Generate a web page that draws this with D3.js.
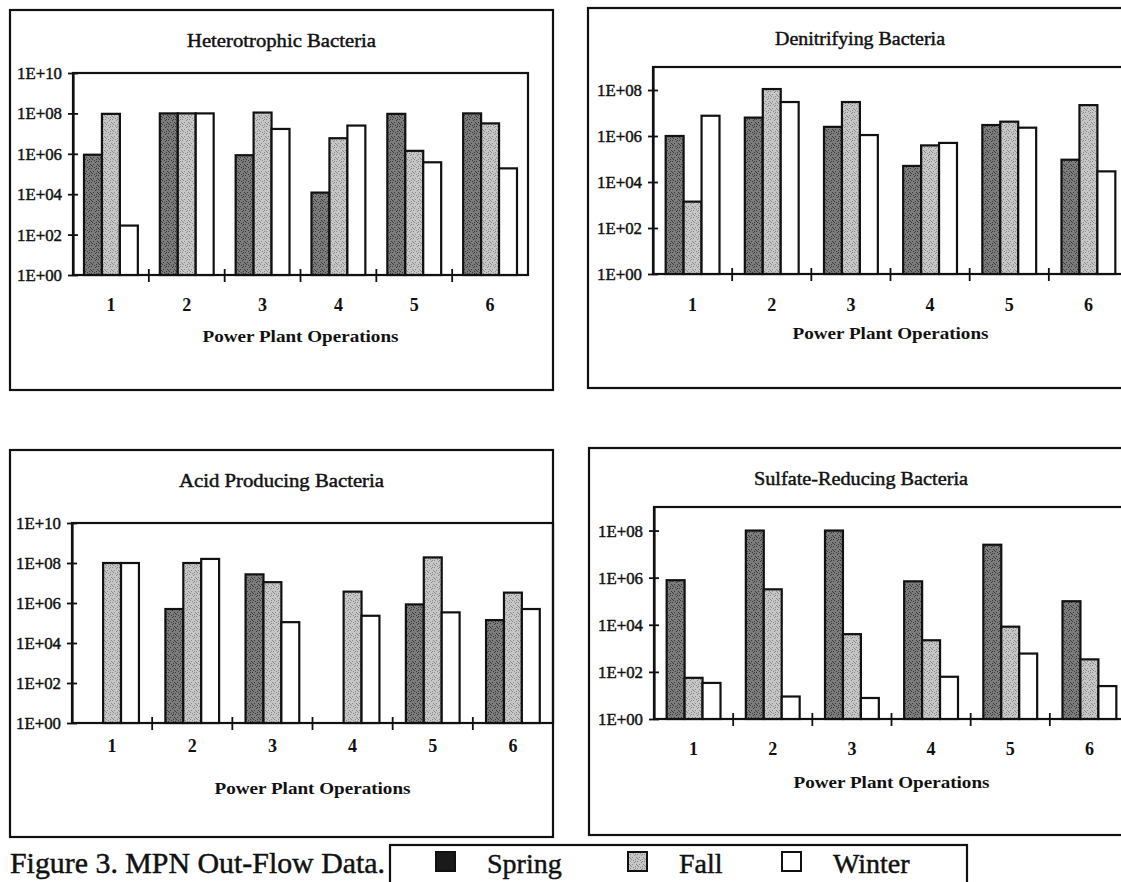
<!DOCTYPE html>
<html>
<head>
<meta charset="utf-8">
<script src="https://cdn.jsdelivr.net/npm/d3@7"></script>
<style>
  body { margin: 0; background: #fff; }
  svg { display: block; }
  text { font-family: "Liberation Serif", "Times New Roman", Times, serif; fill: #111; }
  .ink { stroke: #111; stroke-width: 0.45px; }
</style>
</head>
<body>
<svg id="fig" width="1121" height="882"></svg>
<script>
// ---- data ---------------------------------------------------------------
const operations = ["1", "2", "3", "4", "5", "6"];
const seasons = ["Spring", "Fall", "Winter"];

const tickValuesTen = [1, 1e2, 1e4, 1e6, 1e8, 1e10];
const tickLabelsTen = ["1E+00", "1E+02", "1E+04", "1E+06", "1E+08", "1E+10"];
const tickValuesEight = [1, 1e2, 1e4, 1e6, 1e8];
const tickLabelsEight = ["1E+00", "1E+02", "1E+04", "1E+06", "1E+08"];

// MPN counts (per operation 1..6); null = no count reported
const heteroSpring = [9.0e5, 1.0e8, 8.5e5, 1.2e4, 9.5e7, 1.0e8];
const heteroFall   = [9.5e7, 1.0e8, 1.1e8, 5.9e6, 1.4e6, 3.2e7];
const heteroWinter = [2.8e2, 1.0e8, 1.7e7, 2.5e7, 3.8e5, 1.9e5];

const denitSpring = [1.0e6, 6.3e6, 2.5e6, 5.0e4, 3.0e6, 9.3e4];
const denitFall   = [1.4e3, 1.1e8, 3.0e7, 3.9e5, 4.2e6, 2.2e7];
const denitWinter = [7.6e6, 3.0e7, 1.1e6, 5.0e5, 2.3e6, 2.9e4];

const acidSpring = [null, 5.0e5, 2.7e7, null, 8.5e5, 1.4e5];
const acidFall   = [1.0e8, 1.0e8, 1.1e7, 3.7e6, 1.9e8, 3.3e6];
const acidWinter = [1.0e8, 1.6e8, 1.1e5, 2.3e5, 3.4e5, 5.0e5];

const sulfSpring = [7.8e5, 1.0e8, 1.0e8, 7.0e5, 2.5e7, 1.0e5];
const sulfFall   = [56, 3.2e5, 4.0e3, 2.2e3, 8.3e3, 340];
const sulfWinter = [34, 9, 7.8, 62, 600, 25];

const panelTitles = ["Heterotrophic Bacteria", "Denitrifying Bacteria",
                     "Acid Producing Bacteria", "Sulfate-Reducing Bacteria"];
const axisTitle = "Power Plant Operations";
const captionText = "Figure 3.  MPN Out-Flow Data.";

// ---- drawing ------------------------------------------------------------
const svg = d3.select("#fig");
const defs = svg.append("defs");

// grainy halftone fills for the shaded bars (scattered dots, 7x7 tile)
const dotCells = [[0,0],[4,1],[2,3],[6,3],[1,5],[5,5],[3,6],[5,0],[0,4]];
function halftone(id, base, dot) {
  const p = defs.append("pattern").attr("id", id)
    .attr("width", 7).attr("height", 7).attr("patternUnits", "userSpaceOnUse");
  p.append("rect").attr("width", 7).attr("height", 7).attr("fill", base);
  p.selectAll("rect.d").data(dotCells).join("rect").attr("class", "d")
    .attr("x", d => d[0]).attr("y", d => d[1]).attr("width", 1).attr("height", 1)
    .attr("fill", dot);
}
halftone("springFill", "#7c7c7c", "#3a3a3a");
halftone("fallFill", "#c6c6c6", "#8a8a8a");

const seasonFill = { Spring: "url(#springFill)", Fall: "url(#fallFill)", Winter: "#ffffff" };

const panels = [
  { title: panelTitles[0], series: [heteroSpring, heteroFall, heteroWinter],
    outer: { x: 10, y: 10, w: 543, h: 380 }, plot: { x: 73, y: 73, w: 455, h: 202 },
    yMax: 1e10, ticks: tickValuesTen, tickLabels: tickLabelsTen,
    titleY: 47, titleLen: 189, catY: 311, axisTitleY: 342, groupFrac: 0.71 },
  { title: panelTitles[1], series: [denitSpring, denitFall, denitWinter],
    outer: { x: 588, y: 8, w: 544, h: 380 }, plot: { x: 653, y: 67, w: 475, h: 207 },
    yMax: 1e9, ticks: tickValuesEight, tickLabels: tickLabelsEight,
    titleY: 45, titleLen: 170, catY: 311, axisTitleY: 339, groupFrac: 0.68 },
  { title: panelTitles[2], series: [acidSpring, acidFall, acidWinter],
    outer: { x: 10, y: 450, w: 543, h: 387 }, plot: { x: 72, y: 523, w: 481, h: 200 },
    yMax: 1e10, ticks: tickValuesTen, tickLabels: tickLabelsTen,
    titleY: 487, titleLen: 205, catY: 752, axisTitleY: 794, groupFrac: 0.67 },
  { title: panelTitles[3], series: [sulfSpring, sulfFall, sulfWinter],
    outer: { x: 589, y: 448, w: 544, h: 387 }, plot: { x: 654, y: 507, w: 475, h: 212 },
    yMax: 1e9, ticks: tickValuesEight, tickLabels: tickLabelsEight,
    titleY: 485, titleLen: 214, catY: 755, axisTitleY: 788, groupFrac: 0.68 }
];

function drawPanel(cfg) {
  const g = svg.append("g");
  const o = cfg.outer, p = cfg.plot;

  // panel frame
  g.append("rect").attr("x", o.x).attr("y", o.y).attr("width", o.w).attr("height", o.h)
    .attr("fill", "none").attr("stroke", "#111").attr("stroke-width", 2.2);

  const x = d3.scaleBand().domain(operations).range([p.x, p.x + p.w]);
  const groupW = x.bandwidth() * cfg.groupFrac;
  const xs = d3.scaleBand().domain(seasons).range([0, groupW]);
  const y = d3.scaleLog().domain([1, cfg.yMax]).range([p.y + p.h, p.y]);

  // plot-area frame
  g.append("rect").attr("x", p.x).attr("y", p.y).attr("width", p.w).attr("height", p.h)
    .attr("fill", "none").attr("stroke", "#111").attr("stroke-width", 2.2);

  // title
  g.append("text").attr("class", "ink").attr("x", o.x + o.w / 2).attr("y", cfg.titleY)
    .attr("text-anchor", "middle").attr("font-size", 19)
    .attr("textLength", cfg.titleLen).attr("lengthAdjust", "spacingAndGlyphs")
    .text(cfg.title);

  // bars
  seasons.forEach((s, si) => {
    const rows = cfg.series[si].map((v, i) => ({ op: operations[i], v }))
      .filter(d => d.v != null);
    g.append("g").selectAll("rect").data(rows).join("rect")
      .attr("x", d => x(d.op) + (x.bandwidth() - groupW) / 2 + xs(s))
      .attr("width", xs.bandwidth())
      .attr("y", d => y(d.v))
      .attr("height", d => y(1) - y(d.v))
      .attr("fill", seasonFill[s])
      .attr("stroke", "#111").attr("stroke-width", 2.2);
  });

  // y axis with cross ticks
  const ya = g.append("g").attr("transform", `translate(${p.x},0)`)
    .call(d3.axisLeft(y).tickValues(cfg.ticks)
      .tickFormat((d, i) => cfg.tickLabels[i])
      .tickSize(5).tickSizeOuter(0).tickPadding(6));
  ya.select(".domain").attr("stroke", "#111").attr("stroke-width", 2.2);
  ya.selectAll(".tick line").attr("stroke", "#111").attr("stroke-width", 1.8);
  ya.selectAll(".tick").append("line").attr("x2", 5)
    .attr("stroke", "#111").attr("stroke-width", 1.8);
  ya.selectAll(".tick text").attr("class", "ink").attr("font-size", 17)
    .attr("textLength", 45).attr("lengthAdjust", "spacingAndGlyphs")
    .attr("font-family", "'Liberation Serif', 'Times New Roman', serif").attr("fill", "#111");

  // x axis line and boundary cross ticks
  const y0 = y(1);
  g.append("line").attr("x1", p.x).attr("x2", p.x + p.w).attr("y1", y0).attr("y2", y0)
    .attr("stroke", "#111").attr("stroke-width", 2.2);
  g.append("g").selectAll("line").data(operations.slice(1)).join("line")
    .attr("x1", d => x(d)).attr("x2", d => x(d))
    .attr("y1", y0 - 6).attr("y2", y0 + 7)
    .attr("stroke", "#111").attr("stroke-width", 1.8);

  // category labels
  g.append("g").selectAll("text").data(operations).join("text")
    .attr("x", d => x(d) + x.bandwidth() / 2).attr("y", cfg.catY)
    .attr("text-anchor", "middle").attr("font-size", 18).attr("font-weight", "bold")
    .text(d => d);

  // axis title
  g.append("text").attr("x", p.x + p.w / 2)
    .attr("y", cfg.axisTitleY).attr("text-anchor", "middle")
    .attr("font-size", 17).attr("font-weight", "bold")
    .attr("textLength", 196).attr("lengthAdjust", "spacingAndGlyphs")
    .text(axisTitle);
}

panels.forEach(drawPanel);

// caption
svg.append("text").attr("class", "ink").attr("x", 10).attr("y", 873).attr("font-size", 29)
  .attr("textLength", 375).attr("lengthAdjust", "spacingAndGlyphs")
  .text(captionText);

// legend
const lg = svg.append("g");
lg.append("rect").attr("x", 390).attr("y", 845).attr("width", 577).attr("height", 60)
  .attr("fill", "none").attr("stroke", "#111").attr("stroke-width", 2.2);
const legendX = d3.scaleOrdinal().domain(seasons).range([436, 628, 782]);
const legendSwatch = { Spring: "#1a1a1a", Fall: "url(#fallFill)", Winter: "#ffffff" };
lg.selectAll("rect.sw").data(seasons).join("rect").attr("class", "sw")
  .attr("x", d => legendX(d)).attr("y", 852).attr("width", 19).attr("height", 19)
  .attr("fill", d => legendSwatch[d]).attr("stroke", "#111").attr("stroke-width", 2);
lg.selectAll("text").data(seasons).join("text").attr("class", "ink")
  .attr("x", d => legendX(d) + 51).attr("y", 873).attr("font-size", 28)
  .text(d => d);
</script>
</body>
</html>
